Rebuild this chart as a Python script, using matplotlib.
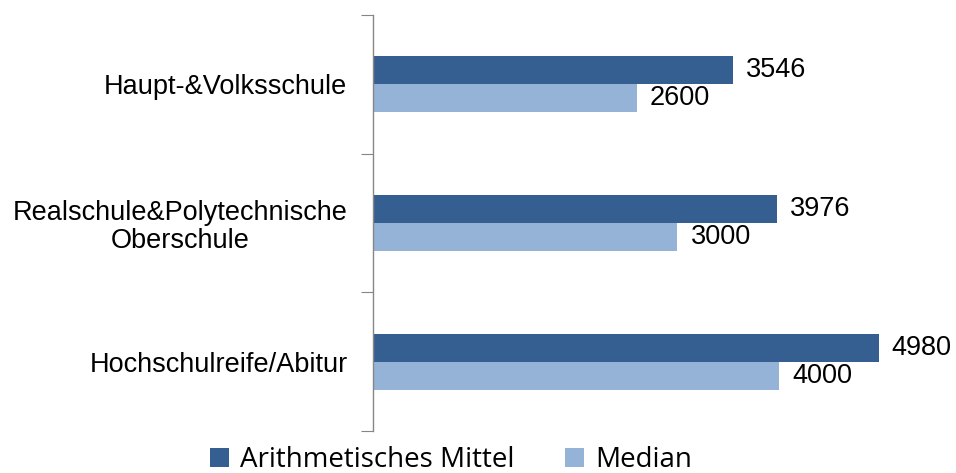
import matplotlib
matplotlib.use("Agg")
import matplotlib.pyplot as plt
from matplotlib.patches import Patch

categories = ["Haupt-&Volksschule", "Realschule&Polytechnische\nOberschule", "Hochschulreife/Abitur"]
mean_vals = [3546, 3976, 4980]
median_vals = [2600, 3000, 4000]
series_names = ["Arithmetisches Mittel", "Median"]
colors = ["#365F91", "#95B3D7"]

W, H = 956, 473
fig = plt.figure(figsize=(W / 100, H / 100), dpi=100)
ax = fig.add_axes([372.5 / W, (H - 431) / H, 1 - 372.5 / W, (431 - 15) / H])

FS = 19.5
bh = 0.202
ypos = list(range(len(categories)))
for i, (m, md) in enumerate(zip(mean_vals, median_vals)):
    ax.barh(i - bh / 2, m, height=bh, color=colors[0])
    ax.barh(i + bh / 2, md, height=bh, color=colors[1])
    ax.annotate(f"{m}", (m, i - bh / 2), xytext=(13, 0), textcoords="offset pixels",
                va="center", ha="left", fontsize=FS, family="Liberation Sans")
    ax.annotate(f"{md}", (md, i + bh / 2), xytext=(13, 0), textcoords="offset pixels",
                va="center", ha="left", fontsize=FS, family="Liberation Sans")

ax.set_xlim(0, 5740)
ax.set_ylim(len(categories) - 0.5, -0.5)
ax.xaxis.set_visible(False)
for s in ["top", "right", "bottom"]:
    ax.spines[s].set_visible(False)
ax.spines["left"].set_color("#868686")
ax.spines["left"].set_linewidth(1.0)

ax.set_yticks([-0.5, 0.5, 1.5, 2.5])
ax.set_yticklabels([])
ax.tick_params(axis="y", which="major", length=9, color="#868686", direction="out")
ax.set_yticks(ypos, minor=True)
ax.set_yticklabels(categories, minor=True, fontsize=FS, family="Liberation Sans",
                   multialignment="center", linespacing=1.1)
ax.tick_params(axis="y", which="minor", length=0, pad=18)

handles = [Patch(facecolor=c, edgecolor="none") for c in colors]
fig.legend(handles, series_names, loc="center", bbox_to_anchor=(451 / W, 1 - 460 / H),
           ncol=2, frameon=False, handlelength=0.7, handleheight=0.7, handletextpad=0.4,
           columnspacing=1.8, prop={"family": "Open Sans", "size": 20})

fig.savefig("out.png", dpi=100)
